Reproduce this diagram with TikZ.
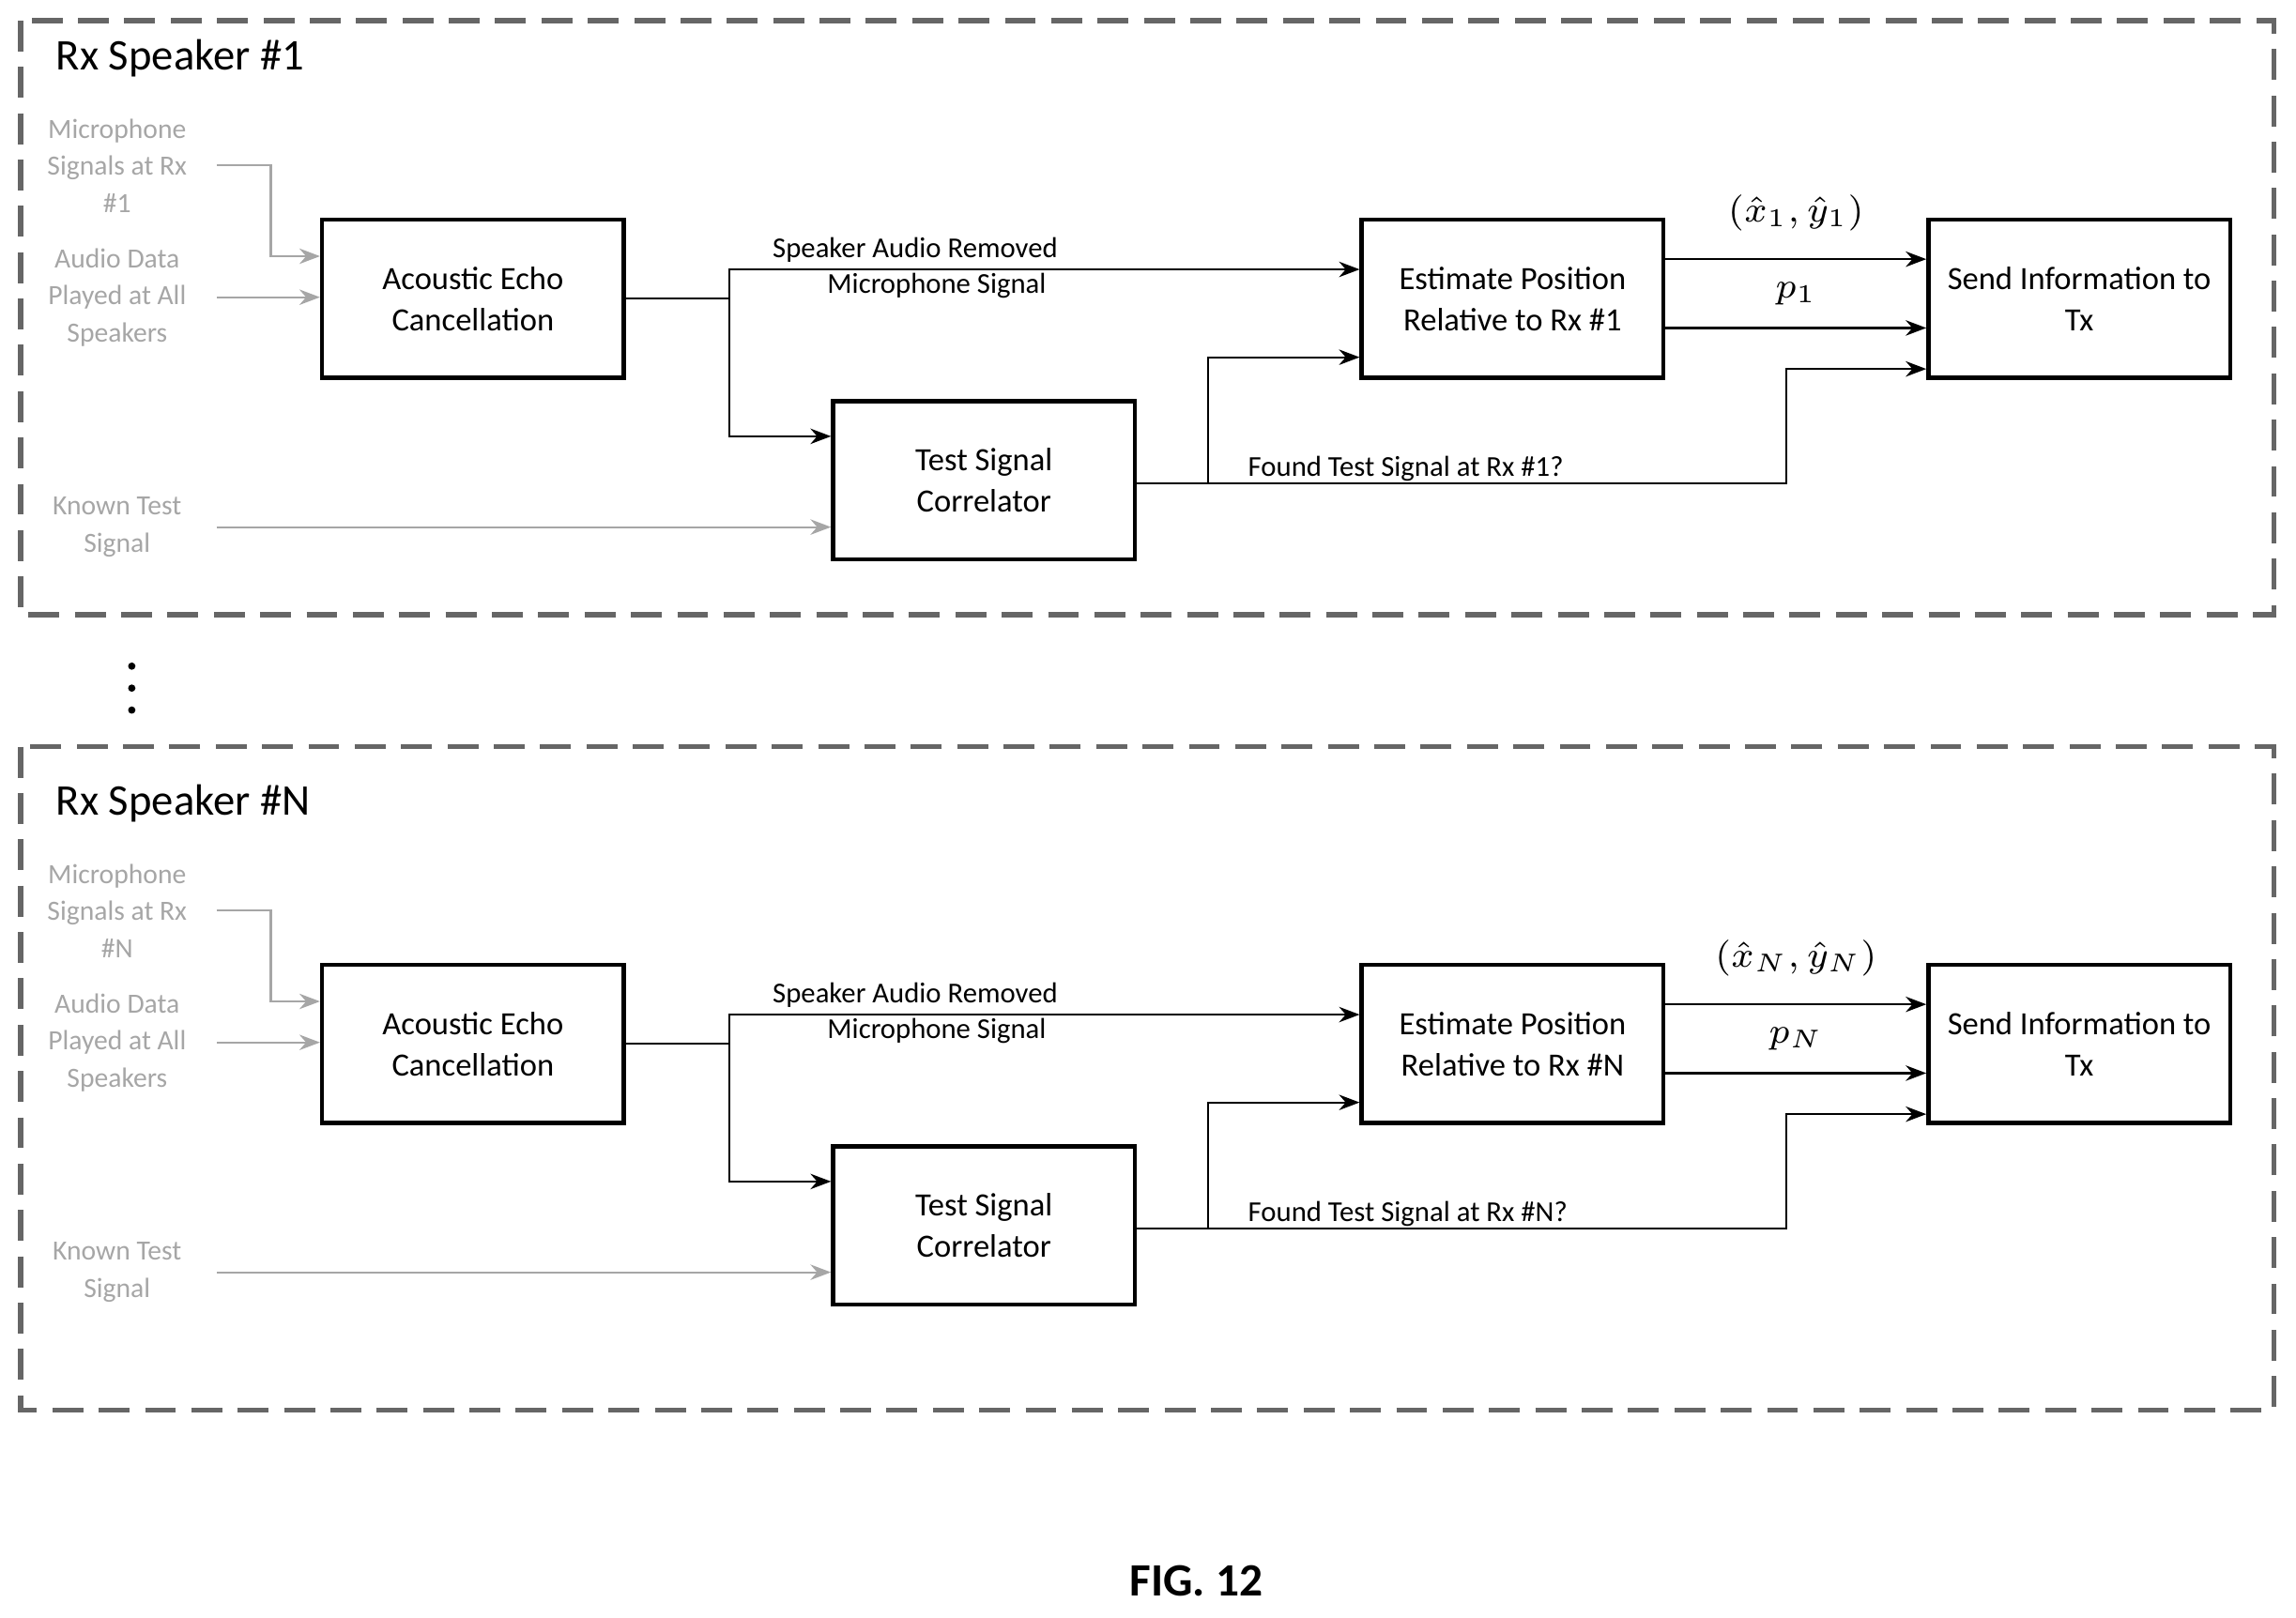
\documentclass[tikz,border=0pt]{standalone}
\usepackage{fontspec}
\setmainfont{Carlito}
\usetikzlibrary{arrows.meta,positioning}
\tikzset{
  blk/.style={draw, line width=0.8pt, minimum width=2.06cm, minimum height=1.08cm, align=center, font=\fontsize{6.3}{8}\selectfont, inner sep=0pt},
  inp/.style={text=gray!70, align=center, font=\fontsize{5.4}{7.2}\selectfont},
  lbl/.style={font=\fontsize{5.6}{7}\selectfont, align=center},
  mth/.style={font=\fontsize{7}{8}\selectfont},
  sig/.style={-{Stealth[length=4pt,width=3pt]}, line width=0.4pt},
  gsig/.style={sig, draw=gray!70}
}
\begin{document}
\begin{tikzpicture}[x=0.01cm,y=-0.01cm]
  \useasboundingbox (0,0) rectangle (1568,1105);

  % frames
  \draw [line width=1pt, gray!80!black, dash pattern=on 6pt off 3pt] (14,14) rectangle (1553,420);
  \draw [line width=1pt, gray!80!black, dash pattern=on 6pt off 3pt] (14,510) rectangle (1553,963);

  \foreach \n/\dy/\tag in {1/0/1, N/509/N} {
  \begin{scope}[yshift=-\dy*0.01cm]
    \node [anchor=west, font=\fontsize{8.5}{10}\selectfont] (title\n) at (26,40) {Rx Speaker \#\n};

    % inputs
    \node [inp] (mic\n) at (80,113) {Microphone\\Signals at Rx\\\#\n};
    \node [inp] (aud\n) at (80,203) {Audio Data\\Played at All\\Speakers};
    \node [inp] (known\n) at (80,360) {Known Test\\Signal};

    % blocks
    \node [blk] (aec\n) at (323,204) {Acoustic Echo\\Cancellation};
    \node [blk] (tsc\n) at (672,328) {Test Signal\\Correlator};
    \node [blk] (est\n) at (1033,204) {Estimate Position\\Relative to Rx \#\n};
    \node [blk] (send\n) at (1420,204) {Send Information to\\Tx};

    \coordinate (micout\n) at (148,113);
    \coordinate (audout\n) at (148,203);
    \coordinate (knout\n) at (148,360);
    \coordinate (split\n) at (498,204);
    \coordinate (tsplit\n) at (825,330);

    \draw [gsig] (micout\n) -| (185,175) -- (aec\n.west |- 0,175);
    \draw [gsig] (audout\n) -- (aec\n.west |- 0,203);
    \draw [gsig] (knout\n) -- (tsc\n.west |- 0,360);

    \draw [line width=0.4pt] (aec\n.east |- split\n) -- (split\n);
    \draw [sig] (split\n) -- (498,184) -- (est\n.west |- 0,184);
    \draw [sig] (split\n) -- (498,298) -- (tsc\n.west |- 0,298);
    \node [lbl] (samsig\n) at (625,183) {Speaker Audio Removed\\\hspace*{1.5em}Microphone Signal};

    \draw [line width=0.4pt] (tsc\n.east |- tsplit\n) -- (tsplit\n);
    \draw [sig] (tsplit\n) -- (825,244) -- (est\n.west |- 0,244);
    \draw [sig] (tsplit\n) -- (1220,330) -- (1220,252) -- (send\n.west |- 0,252);
    \node [lbl, anchor=west] (found\n) at (840,320) {Found Test Signal at Rx \#\n?};

    \draw [sig] (est\n.east |- 0,177) -- (send\n.west |- 0,177)
      node [midway, above=2pt, mth] {$(\hat{x}_\tag,\hat{y}_\tag)$};
    \draw [sig] (est\n.east |- 0,224) -- (send\n.west |- 0,224)
      node [midway, above=1pt, mth] {$p_\tag$};
  \end{scope}
  }

  % dots between panels
  \foreach \y in {455,470,485} \fill (90,\y) circle (2.5);

  \node [font=\bfseries\fontsize{9}{11}\selectfont] (fig) at (817,1080) {FIG. 12};
\end{tikzpicture}
\end{document}
